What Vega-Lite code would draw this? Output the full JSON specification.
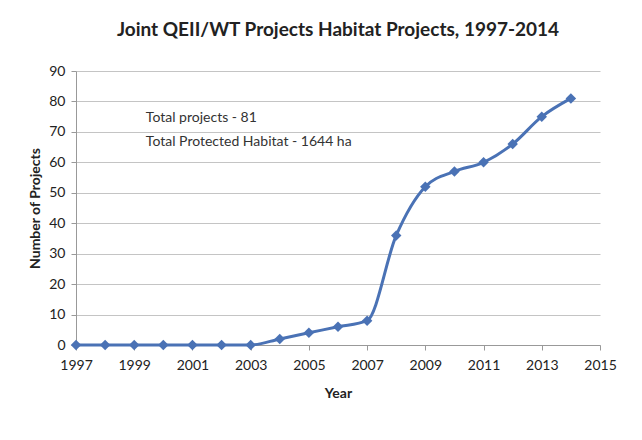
{
  "$schema": "https://vega.github.io/schema/vega-lite/v6.json",
  "width": 524,
  "height": 274,
  "autosize": {"type": "none"},
  "padding": {"left": 76, "top": 71, "right": 42, "bottom": 95},
  "background": "white",
  "title": {
    "text": "Joint QEII/WT Projects Habitat Projects, 1997-2014",
    "font": "Lato",
    "fontSize": 19,
    "fontWeight": "bold",
    "color": "#222222",
    "anchor": "middle",
    "offset": 24
  },
  "config": {
    "view": {"stroke": null},
    "axis": {"labelFont": "Lato", "titleFont": "Lato", "labelColor": "#222222", "titleColor": "#222222", "labelFontSize": 14, "titleFontSize": 14, "titleFontWeight": "bold", "domainColor": "#999999", "tickColor": "#999999", "gridColor": "#c4c4c4", "labelOverlap": false, "labelFlush": false}
  },
  "datasets": {
    "series": [
      {"year": 1997, "projects": 0},
      {"year": 1998, "projects": 0},
      {"year": 1999, "projects": 0},
      {"year": 2000, "projects": 0},
      {"year": 2001, "projects": 0},
      {"year": 2002, "projects": 0},
      {"year": 2003, "projects": 0},
      {"year": 2004, "projects": 2},
      {"year": 2005, "projects": 4},
      {"year": 2006, "projects": 6},
      {"year": 2007, "projects": 8},
      {"year": 2008, "projects": 36},
      {"year": 2009, "projects": 52},
      {"year": 2010, "projects": 57},
      {"year": 2011, "projects": 60},
      {"year": 2012, "projects": 66},
      {"year": 2013, "projects": 75},
      {"year": 2014, "projects": 81}
    ],
    "notes": [
      {"year": 1999.4, "projects": 74.6, "label": "Total projects - 81"},
      {"year": 1999.4, "projects": 66.8, "label": "Total Protected Habitat -  1644 ha"}
    ]
  },
  "encoding": {
    "x": {"field": "year", "type": "quantitative", "scale": {"domain": [1997, 2015], "nice": false, "zero": false},
      "axis": {"title": "Year", "format": "d", "values": [1997, 1999, 2001, 2003, 2005, 2007, 2009, 2011, 2013, 2015], "tickCount": 20, "grid": false, "labelPadding": 8, "titlePadding": 14, "tickSize": 5}},
    "y": {"field": "projects", "type": "quantitative", "scale": {"domain": [0, 90], "nice": false},
      "axis": {"title": "Number of Projects", "values": [0, 10, 20, 30, 40, 50, 60, 70, 80, 90], "tickCount": 20, "domain": true, "ticks": true, "tickSize": 5, "labelPadding": 6, "titlePadding": 6}}
  },
  "layer": [
    {
      "data": {"name": "series"},
      "mark": {"type": "line", "interpolate": "monotone", "color": "#4A72B5", "strokeWidth": 3}
    },
    {
      "data": {"name": "series"},
      "mark": {"type": "point", "shape": "diamond", "filled": true, "color": "#4A72B5", "size": 110, "opacity": 1}
    },
    {
      "data": {"name": "notes"},
      "mark": {"type": "text", "align": "left", "baseline": "middle", "font": "Lato", "fontSize": 14, "color": "#333333"},
      "encoding": {
        "text": {"field": "label"}
      }
    }
  ]
}
